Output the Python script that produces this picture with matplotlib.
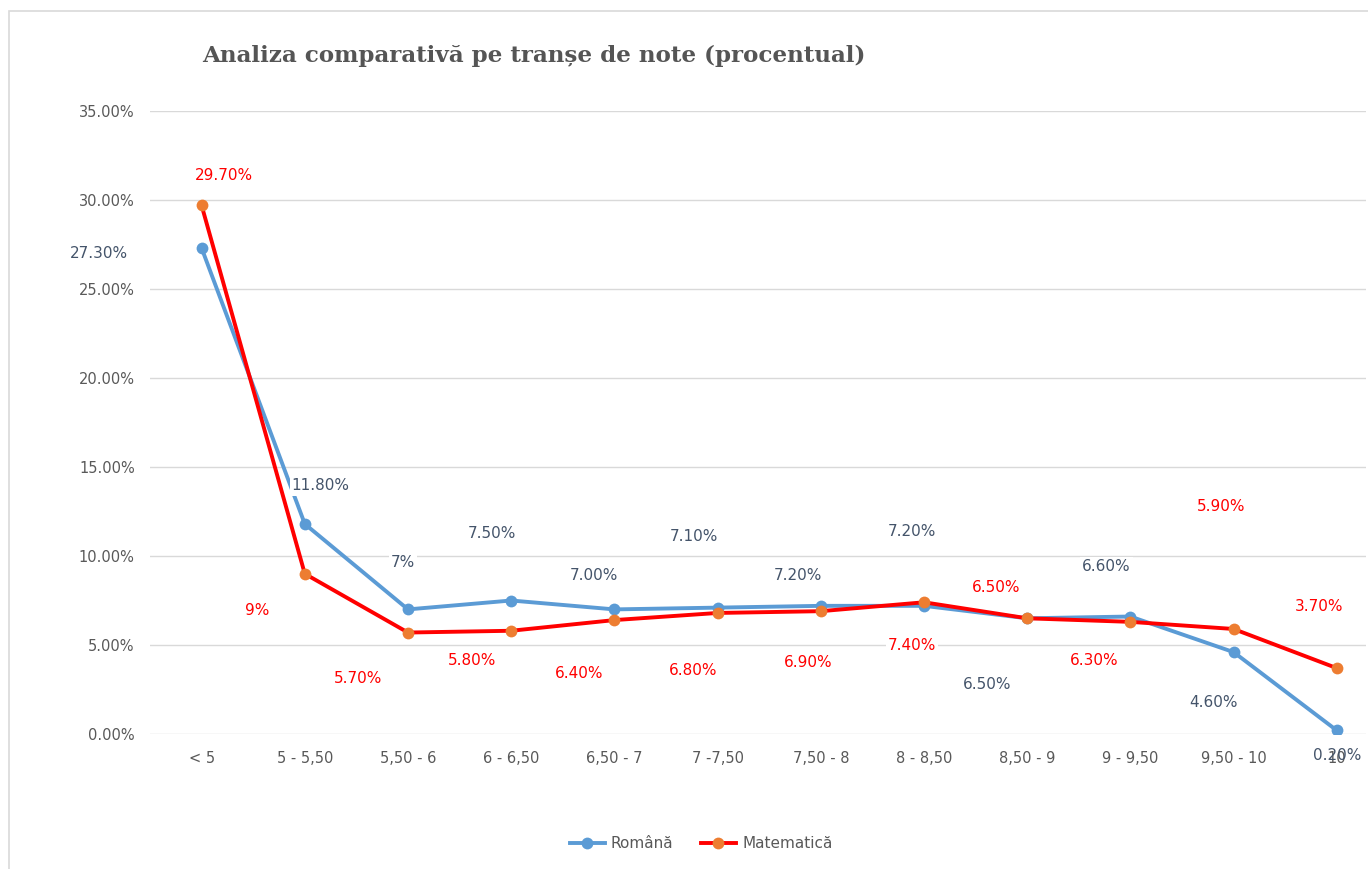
import matplotlib.pyplot as plt
from matplotlib.patches import Rectangle

# Date
transe = ['< 5', '5 - 5,50', '5,50 - 6', '6 - 6,50', '6,50 - 7', '7 -7,50',
          '7,50 - 8', '8 - 8,50', '8,50 - 9', '9 - 9,50', '9,50 - 10', '10']
romana = [27.3, 11.8, 7.0, 7.5, 7.0, 7.1, 7.2, 7.2, 6.5, 6.6, 4.6, 0.2]
matematica = [29.7, 9.0, 5.7, 5.8, 6.4, 6.8, 6.9, 7.4, 6.5, 6.3, 5.9, 3.7]
etichete_romana = ['27.30%', '11.80%', '7%', '7.50%', '7.00%', '7.10%',
                   '7.20%', '7.20%', '6.50%', '6.60%', '4.60%', '0.20%']
etichete_mate = ['29.70%', '9%', '5.70%', '5.80%', '6.40%', '6.80%',
                 '6.90%', '7.40%', '6.50%', '6.30%', '5.90%', '3.70%']

# pozitii etichete (offset in pixeli fata de punct)
off_romana = [(-103, -5), (16, 38), (-5, 47), (-19, 67), (-20, 34), (-24, 71),
              (-23, 30), (-12, 74), (-40, -66), (-24, 50), (-20, -50), (0, -25)]
off_mate = [(22, 30), (-48, -37), (-50, -46), (-39, -30), (-35, -53), (-24, -58),
            (-13, -51), (-12, -43), (-31, 31), (-36, -39), (-12, 122), (-18, 62)]

fig = plt.figure(figsize=(13.68, 8.69), dpi=100)
W, H = 1368, 869

# chenar exterior
fig.patches.append(Rectangle((9 / W, -0.1), 1.2, (H - 11) / H + 0.1,
                             transform=fig.transFigure, fill=False,
                             edgecolor='#D9D9D9', linewidth=1.2))

ax = fig.add_axes([150 / W, (H - 734) / H, 1216 / W, 623 / H])
x = list(range(len(transe)))

ax.plot(x, romana, color='#5B9BD5', linewidth=2.8, marker='o', markersize=8.5,
        markerfacecolor='#5B9BD5', markeredgewidth=0, label='Română', zorder=3)
ax.plot(x, matematica, color='#FF0000', linewidth=2.8, marker='o', markersize=8.5,
        markerfacecolor='#ED7D31', markeredgewidth=0, label='Matematică', zorder=4)

for i in x:
    fundal = dict(facecolor='white', edgecolor='none', pad=1.5)
    if i == len(transe) - 1:
        fundal = None  # in original eticheta se suprapune peste "10"
    ax.annotate(etichete_romana[i], (i, romana[i]), xytext=off_romana[i],
                textcoords='offset pixels', ha='center', va='center',
                fontsize=11, color='#44546A', zorder=5, bbox=fundal)
    ax.annotate(etichete_mate[i], (i, matematica[i]), xytext=off_mate[i],
                textcoords='offset pixels', ha='center', va='center',
                fontsize=11, color='#FF0000', zorder=5,
                bbox=dict(facecolor='white', edgecolor='none', pad=1.5))

ax.set_xlim(-0.5, -0.5 + 1216 / 103.2)
ax.set_ylim(0, 35)
ax.set_yticks([0, 5, 10, 15, 20, 25, 30, 35])
ax.set_yticklabels(['%.2f%%' % v for v in [0, 5, 10, 15, 20, 25, 30, 35]])
ax.set_xticks(x)
ax.set_xticklabels(transe)
ax.tick_params(axis='both', length=0, labelsize=10.5, labelcolor='#595959')
ax.tick_params(axis='y', pad=11)
ax.tick_params(axis='x', pad=12)
ax.grid(axis='y', color='#D9D9D9', linewidth=1)
ax.set_axisbelow(True)
for s in ax.spines.values():
    s.set_visible(False)

fig.text(534 / W, (H - 56) / H, 'Analiza comparativă pe tranșe de note (procentual)',
         ha='center', va='center', fontsize=16.6, fontweight='bold',
         family='DejaVu Serif', color='#555555')

fig.legend(loc='center', bbox_to_anchor=(701 / W, (H - 844) / H), ncol=2,
           frameon=False, fontsize=11, labelcolor='#595959',
           handlelength=2.3, handletextpad=0.4, columnspacing=1.8)

plt.savefig('out.png', dpi=100)
